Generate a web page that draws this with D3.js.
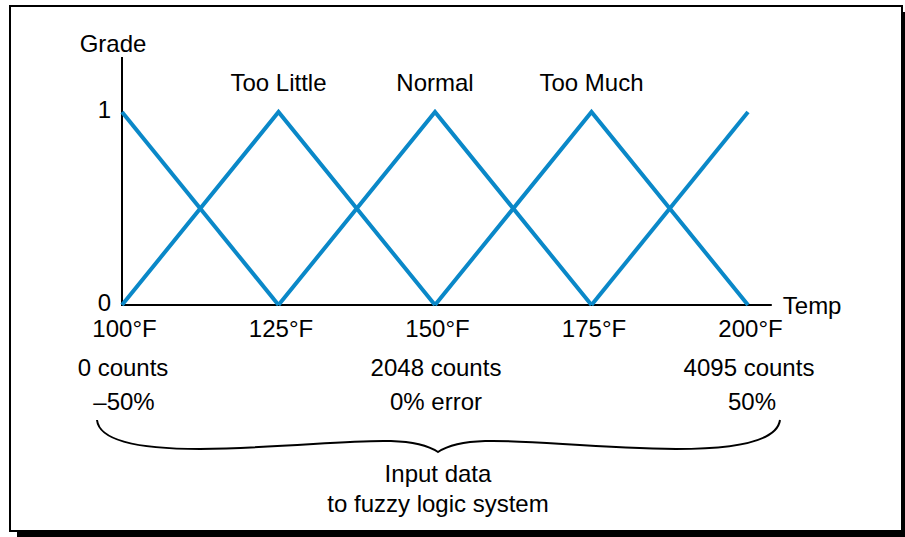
<!DOCTYPE html>
<html>
<head>
<meta charset="utf-8">
<script src="https://cdn.jsdelivr.net/npm/d3@7"></script>
<style>
    body { margin: 0; background: #fff; }
    svg text { font-family: "Liberation Sans", Arial, sans-serif; fill: #000; }
</style>
</head>
<body>
<svg width="905" height="537"></svg>
<script>
// membership sets (temp in °F, grade 0..1)
const setNames = ["Too Little", "Normal", "Too Much"];
const edgeLow = [{t: 100, g: 1}, {t: 125, g: 0}];
const tooLittle = [{t: 100, g: 0}, {t: 125, g: 1}, {t: 150, g: 0}];
const normal = [{t: 125, g: 0}, {t: 150, g: 1}, {t: 175, g: 0}];
const tooMuch = [{t: 150, g: 0}, {t: 175, g: 1}, {t: 200, g: 0}];
const edgeHigh = [{t: 175, g: 0}, {t: 200, g: 1}];
const peaks = [125, 150, 175];

const tempTicks = [100, 125, 150, 175, 200];
const countTicks = [100, 150, 200];
const countLabels = ["0 counts", "2048 counts", "4095 counts"];
const errorLabels = ["\u201350%", "0% error", "50%"];
const gradeTicks = [0, 1];

const blue = "#0a88c8";

let svg = d3.select("svg");

// frame with drop shadow
svg.append("rect").attr("x", 17).attr("y", 12).attr("width", 888).attr("height", 525).attr("fill", "#000");
svg.append("rect").attr("x", 10).attr("y", 6).attr("width", 892).attr("height", 525)
    .attr("fill", "#fff").attr("stroke", "#000").attr("stroke-width", 2);

let x = d3.scaleLinear().domain([100, 200]).range([122, 748]);
let y = d3.scaleLinear().domain([0, 1]).range([305, 112]);

let g = svg.append("g");

// axis lines
g.append("line")
    .attr("x1", x(100)).attr("x2", x(203.8))
    .attr("y1", y(0)).attr("y2", y(0))
    .attr("stroke", "#000").attr("stroke-width", 2);
g.append("line")
    .attr("x1", x(100)).attr("x2", x(100))
    .attr("y1", y(0) + 1).attr("y2", y(1.285))
    .attr("stroke", "#000").attr("stroke-width", 2);

//y ticks
let yAxis = d3.axisLeft(y).tickValues(gradeTicks).tickSize(0).tickPadding(11).tickFormat(d3.format("d"));
g.append("g").attr("transform", "translate(" + x(100) + ",-2)").call(yAxis)
    .call(a => a.select(".domain").remove())
    .selectAll("text").attr("font-size", 24).attr("font-family", "Liberation Sans, Arial, sans-serif").attr("fill", "#000");

//x ticks
let xAxis = d3.axisBottom(x).tickValues(tempTicks).tickSize(0).tickPadding(16).tickFormat(d => d + "\u00b0F");
g.append("g").attr("transform", "translate(2," + (y(0) - 1) + ")").call(xAxis)
    .call(a => a.select(".domain").remove())
    .selectAll("text").attr("font-size", 24).attr("font-family", "Liberation Sans, Arial, sans-serif").attr("fill", "#000");

// second and third label rows
g.selectAll(".counts").data(countTicks).enter().append("text")
    .attr("x", d => x(d) + 1).attr("y", 376)
    .attr("text-anchor", "middle").attr("font-size", 24)
    .text((d, i) => countLabels[i]);
g.selectAll(".errors").data(countTicks).enter().append("text")
    .attr("x", (d, i) => x(d) + [2, 1, 4][i]).attr("y", 410)
    .attr("text-anchor", "middle").attr("font-size", 24)
    .text((d, i) => errorLabels[i]);

// axis titles
g.append("text").attr("x", x(100) - 9).attr("y", 52).attr("text-anchor", "middle").attr("font-size", 24).text("Grade");
g.append("text").attr("x", x(203.8) + 11).attr("y", y(0) + 9).attr("font-size", 24).text("Temp");

// set labels
g.selectAll(".setname").data(peaks).enter().append("text")
    .attr("x", d => x(d)).attr("y", 91)
    .attr("text-anchor", "middle").attr("font-size", 24)
    .text((d, i) => setNames[i]);

// membership lines
let line = d3.line().x(d => x(d.t)).y(d => y(d.g));
g.selectAll(".set").data([edgeLow, tooLittle, normal, tooMuch, edgeHigh]).enter().append("path")
    .attr("d", line)
    .attr("fill", "none").attr("stroke", blue).attr("stroke-width", 4)
    .attr("stroke-linejoin", "miter");

// brace
let cx = 438;
g.append("path")
    .attr("d", "M97,420 Q100,449 200,449 C330,447 405,430 " + cx + ",452 C471,430 546,447 676,449 Q776,449 780,420")
    .attr("fill", "none").attr("stroke", "#000").attr("stroke-width", 2);

g.append("text").attr("x", cx).attr("y", 482).attr("text-anchor", "middle").attr("font-size", 24).text("Input data");
g.append("text").attr("x", cx).attr("y", 512).attr("text-anchor", "middle").attr("font-size", 24).text("to fuzzy logic system");
</script>
</body>
</html>
